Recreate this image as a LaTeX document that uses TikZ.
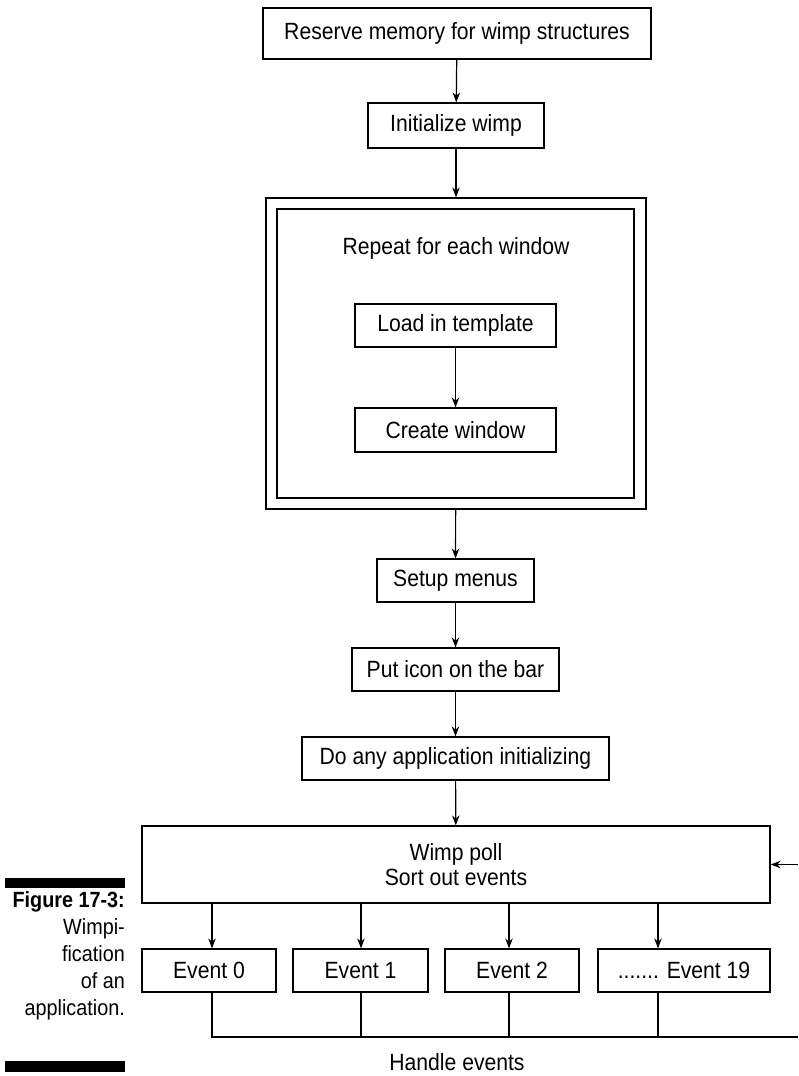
\documentclass[tikz,border=0pt]{standalone}
\usepackage{fontspec}
\setmainfont{Liberation Sans}[FakeStretch=0.9]
\usetikzlibrary{positioning, arrows.meta, calc}

\begin{document}
\begin{tikzpicture}[
    x=1pt, y=-1pt,
    >={Stealth[length=10pt, width=7.5pt]},
    % --- Node styles ---
    block/.style={
        draw, line width=1.2pt, inner sep=0pt,
        align=center, font=\fontsize{23.5}{25}\selectfont
    },
    frame/.style={draw, line width=1.2pt, inner sep=0pt},
    % --- Arrow styles ---
    arr/.style={->, line width=1.2pt},
    wire/.style={line width=1.2pt},
    % --- Caption styles ---
    capt/.style={align=right, inner sep=0pt, font=\fontsize{22}{27}\selectfont},
]
\useasboundingbox (0,0) rectangle (798,1076);

% =============================================
% MAIN COLUMN
% =============================================

\node[block, minimum width=388, minimum height=51] (res) at (457, 33.5)
    {Reserve memory for wimp structures};
\node[block, minimum width=176, minimum height=45] (init) at (456, 125.5)
    {Initialize wimp};

% Double frame: repeat loop
\node[frame, minimum width=380, minimum height=311] (outer) at (456, 353.5) {};
\node[frame, minimum width=357, minimum height=289] (inner) at (455.5, 353.5) {};
\node[font=\fontsize{23.5}{25}\selectfont] (rep) at (456, 248) {Repeat for each window};

\node[block, minimum width=201, minimum height=43] (load) at (455.5, 325.5)
    {Load in template};
\node[block, minimum width=201, minimum height=44] (create) at (455.5, 430)
    {Create window};

\node[block, minimum width=157, minimum height=43] (setup) at (455.5, 580.5)
    {Setup menus};
\node[block, minimum width=207, minimum height=43] (icon) at (455.5, 669.5)
    {Put icon on the bar};
\node[block, minimum width=307, minimum height=43] (appinit) at (455.5, 758.5)
    {Do any application initializing};

% =============================================
% EVENT LOOP
% =============================================

\node[block, minimum width=628, minimum height=77] (poll) at (456, 864.5)
    {Wimp poll\\Sort out events};

\node[block, minimum width=134, minimum height=43] (e0) at (209, 970.5) {Event 0};
\node[block, minimum width=135, minimum height=43] (e1) at (360.5, 970.5) {Event 1};
\node[block, minimum width=134, minimum height=43] (e2) at (512, 970.5) {Event 2};
\node[block, minimum width=172, minimum height=43] (e19) at (684, 970.5) {....... Event 19};

\node[font=\fontsize{23.5}{25}\selectfont] (handle) at (457, 1062) {Handle events};

% =============================================
% ARROWS
% =============================================

\draw[arr] (res) -- (init);
\draw[arr] (init) -- (outer);
\draw[arr] (load) -- (create);
\draw[arr] (outer) -- (setup);
\draw[arr] (setup) -- (icon);
\draw[arr] (icon) -- (appinit);
\draw[arr] (appinit) -- (poll);

% Poll to each event
\coordinate (t0) at (212, 0);
\coordinate (t1) at (361, 0);
\coordinate (t2) at (509, 0);
\coordinate (t19) at (658, 0);
\draw[arr] (poll.south -| t0) -- (e0.north -| t0);
\draw[arr] (poll.south -| t1) -- (e1.north -| t1);
\draw[arr] (poll.south -| t2) -- (e2.north -| t2);
\draw[arr] (poll.south -| t19) -- (e19.north -| t19);

% Events gather into the return line
\coordinate (hend) at (798, 1037);
\draw[wire] (e0.south -| t0) |- (hend);
\draw[wire] (e1.south -| t1) -- (t1 |- hend);
\draw[wire] (e2.south -| t2) -- (t2 |- hend);
\draw[wire] (e19.south -| t19) -- (t19 |- hend);

% Loop back into poll
\coordinate (fb) at (798, 864.5);
\draw[arr] (fb) -- (poll.east);

% =============================================
% CAPTION
% =============================================

\fill (5, 878) rectangle (125, 888);
\node[capt, anchor=east] (cap) at (125, 956)
    {{\bfseries Figure 17-3:}\\Wimpi-\\fication\\of an\\application.};
\fill (5, 1061) rectangle (125, 1072);

\end{tikzpicture}
\end{document}
